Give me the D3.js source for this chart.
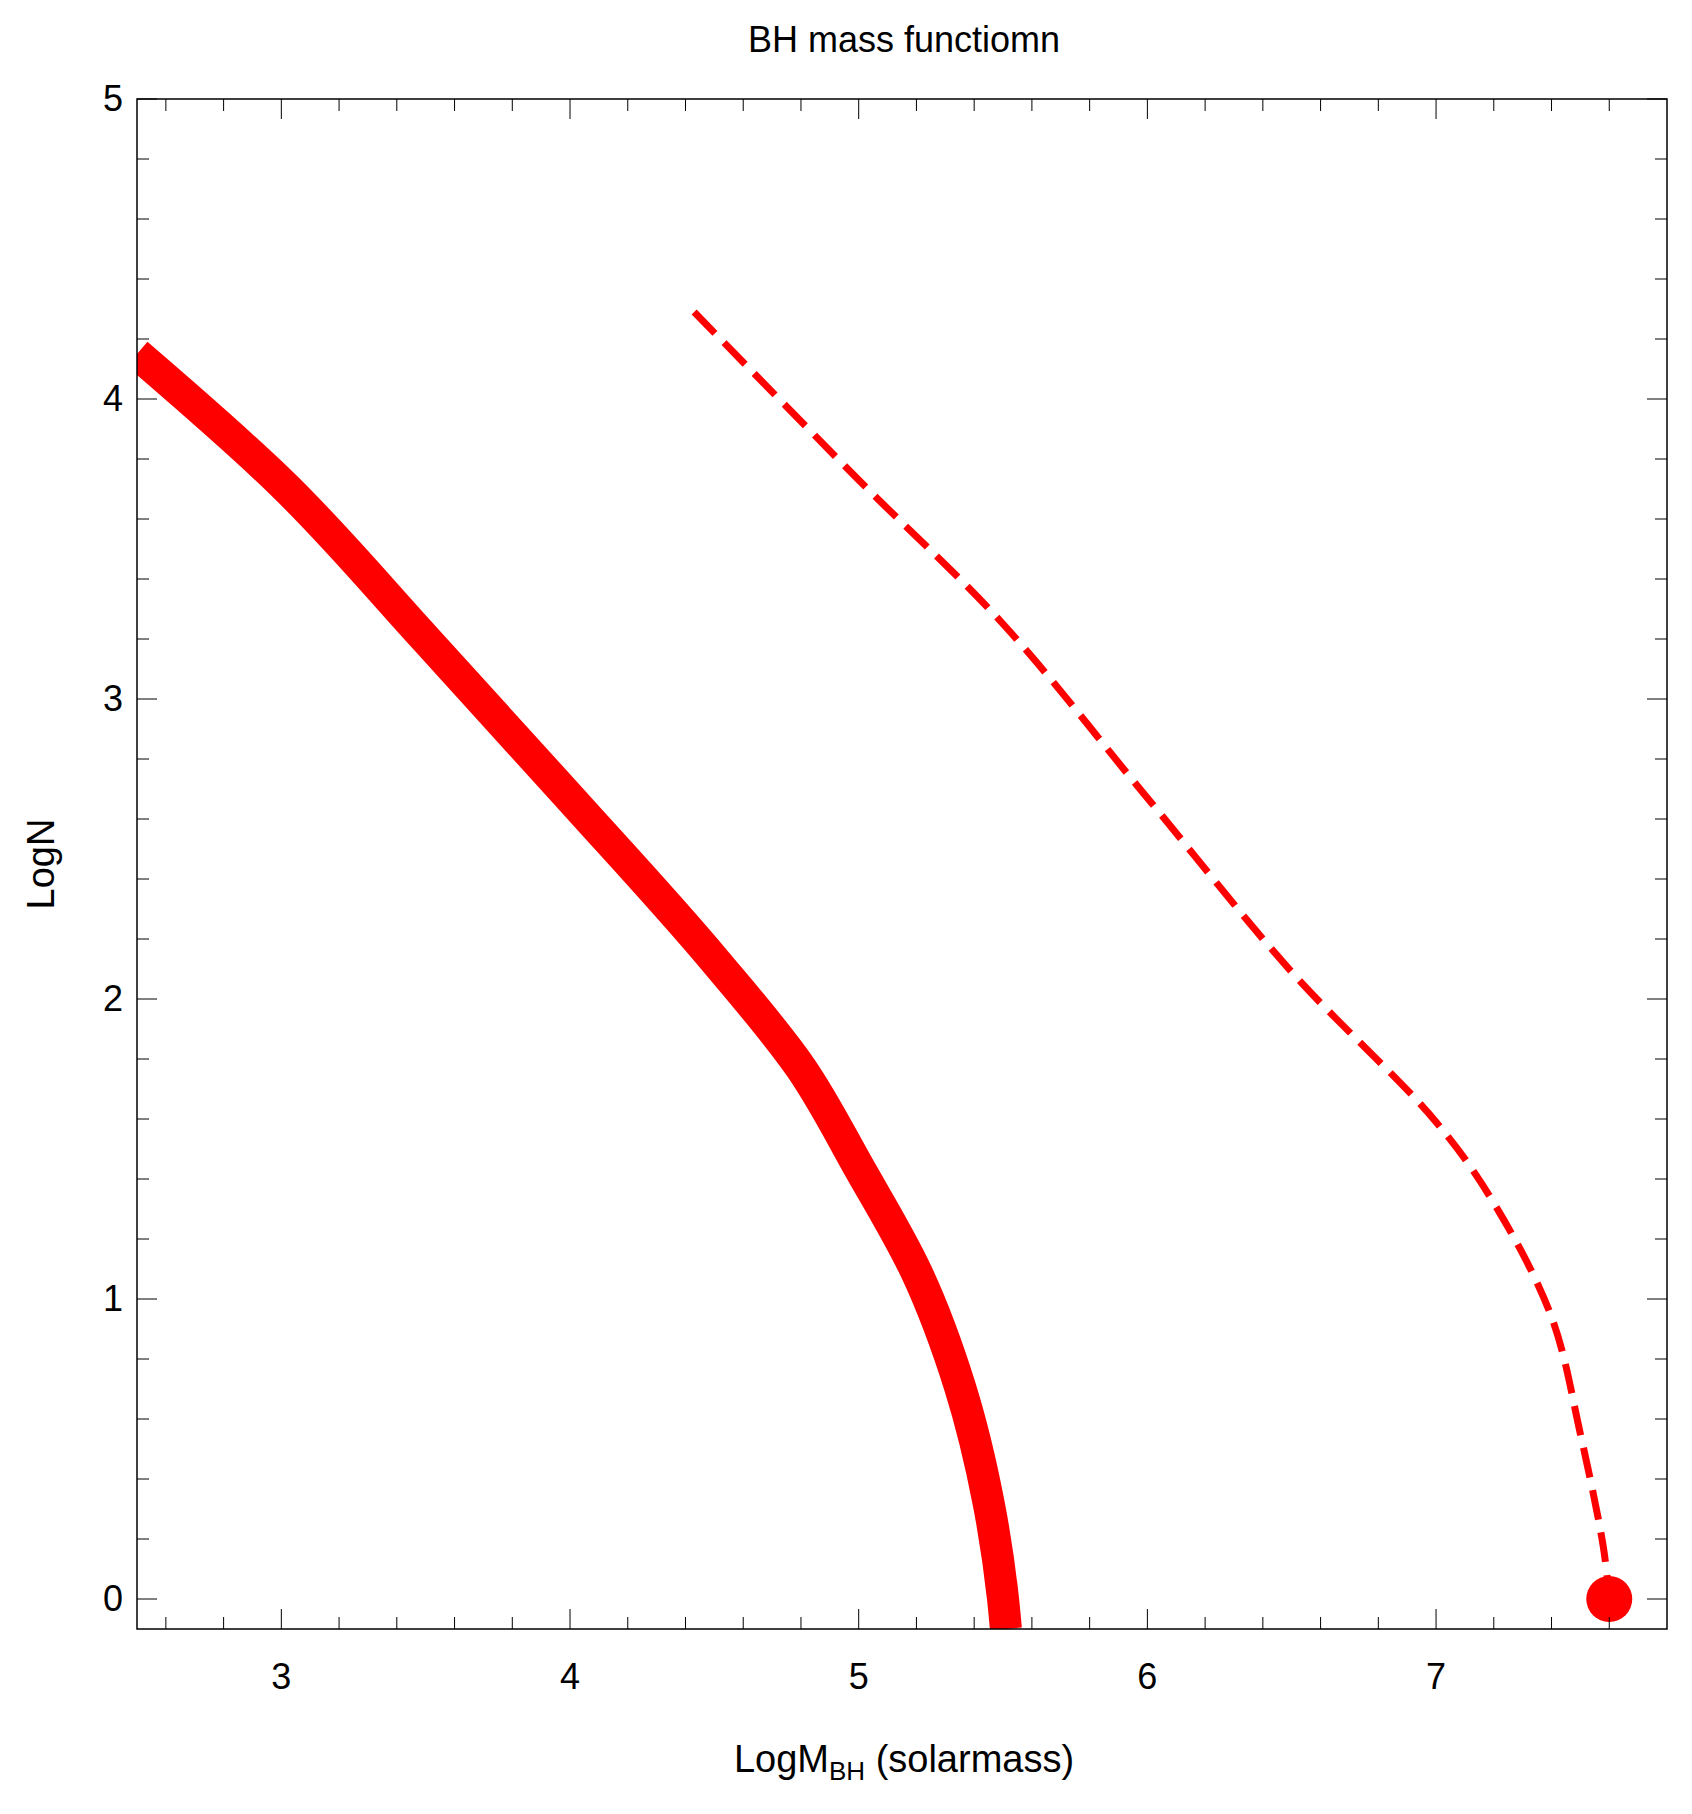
<!DOCTYPE html>
<html><head><meta charset="utf-8">
<script src="https://cdn.jsdelivr.net/npm/d3@7"></script>
<style>body{margin:0;background:#fff}text{font-family:"Liberation Sans Narrow","Liberation Sans",Arial,sans-serif;fill:#000}</style>
</head><body><svg id="c" width="1692" height="1814"></svg>
<script>
// solid curve (logM, logN)
const solidX = [2.5, 3.0, 3.5, 4.0, 4.5, 4.8, 5.0, 5.2, 5.35, 5.45, 5.5, 5.51];
const solidY = [4.15, 3.72, 3.2, 2.67, 2.13, 1.77, 1.44, 1.09, 0.71, 0.32, 0.0, -0.1];
// dashed curve
const dashX = [4.43, 5.0, 5.5, 6.0, 6.5, 7.0, 7.2, 7.4, 7.5, 7.58, 7.6];
const dashY = [4.29, 3.73, 3.25, 2.67, 2.09, 1.59, 1.32, 0.94, 0.55, 0.17, 0.0];
const pointX = [7.6], pointY = [0];
const xTicks = [3, 4, 5, 6, 7], yTicks = [0, 1, 2, 3, 4, 5];

const L = 137, R = 1667, T = 99, B = 1629;
const svg = d3.select('#c');
const x = d3.scaleLinear().domain([2.5, 7.8]).range([L, R]);
const y = d3.scaleLinear().domain([-0.1, 5]).range([B, T]);

svg.append('defs').append('clipPath').attr('id','cp').append('rect')
  .attr('x',L).attr('y',T).attr('width',R-L).attr('height',B-T);

const line = d3.line().x(d=>x(d[0])).y(d=>y(d[1])).curve(d3.curveMonotoneY);
const g = svg.append('g').attr('clip-path','url(#cp)');
g.append('path').attr('d', line(d3.zip(solidX, solidY)))
  .attr('fill','none').attr('stroke','#f00').attr('stroke-width',32);
g.append('path').attr('d', d3.line().x(d=>x(d[0])).y(d=>y(d[1])).curve(d3.curveCatmullRom)(d3.zip(dashX, dashY)))
  .attr('fill','none').attr('stroke','#f00').attr('stroke-width',7).attr('stroke-dasharray','30 13');
g.selectAll('circle').data(d3.zip(pointX, pointY)).enter().append('circle')
  .attr('cx',d=>x(d[0])).attr('cy',d=>y(d[1])).attr('r',23).attr('fill','#f00');

// frame and ticks
svg.append('rect').attr('x',L).attr('y',T).attr('width',R-L).attr('height',B-T)
  .attr('fill','none').attr('stroke','#000').attr('stroke-width',1.5);
const xm = d3.range(2.6, 7.8, 0.2), ym = d3.range(-0.0, 5.01, 0.2);
const tk = svg.append('g').attr('stroke','#000').attr('stroke-width',1);
xm.forEach(v=>{
  const len = xTicks.some(t=>Math.abs(t-v)<1e-6) ? 20 : 12;
  tk.append('line').attr('x1',x(v)).attr('x2',x(v)).attr('y1',B).attr('y2',B-len);
  tk.append('line').attr('x1',x(v)).attr('x2',x(v)).attr('y1',T).attr('y2',T+len);
});
ym.forEach(v=>{
  const len = yTicks.some(t=>Math.abs(t-v)<1e-6) ? 20 : 12;
  tk.append('line').attr('y1',y(v)).attr('y2',y(v)).attr('x1',L).attr('x2',L+len);
  tk.append('line').attr('y1',y(v)).attr('y2',y(v)).attr('x1',R).attr('x2',R-len);
});
svg.selectAll('.xl').data(xTicks).enter().append('text')
  .attr('x',d=>x(d)).attr('y',B+60).attr('text-anchor','middle').attr('font-size',36).text(d=>d);
svg.selectAll('.yl').data(yTicks).enter().append('text')
  .attr('x',L-14).attr('y',d=>y(d)+12).attr('text-anchor','end').attr('font-size',36).text(d=>d);

svg.append('text').attr('x',(L+R)/2+2).attr('y',52).attr('text-anchor','middle').attr('font-size',36).text('BH mass functiomn');
const xl = svg.append('text').attr('x',(L+R)/2+2).attr('y',1772).attr('text-anchor','middle').attr('font-size',38);
xl.append('tspan').text('LogM');
xl.append('tspan').attr('font-size',26).attr('dy',8).text('BH');
xl.append('tspan').attr('dy',-8).text(' (solarmass)');
svg.append('text').attr('transform',`translate(54,${(T+B)/2}) rotate(-90)`).attr('text-anchor','middle').attr('font-size',38).text('LogN');
</script></body></html>
